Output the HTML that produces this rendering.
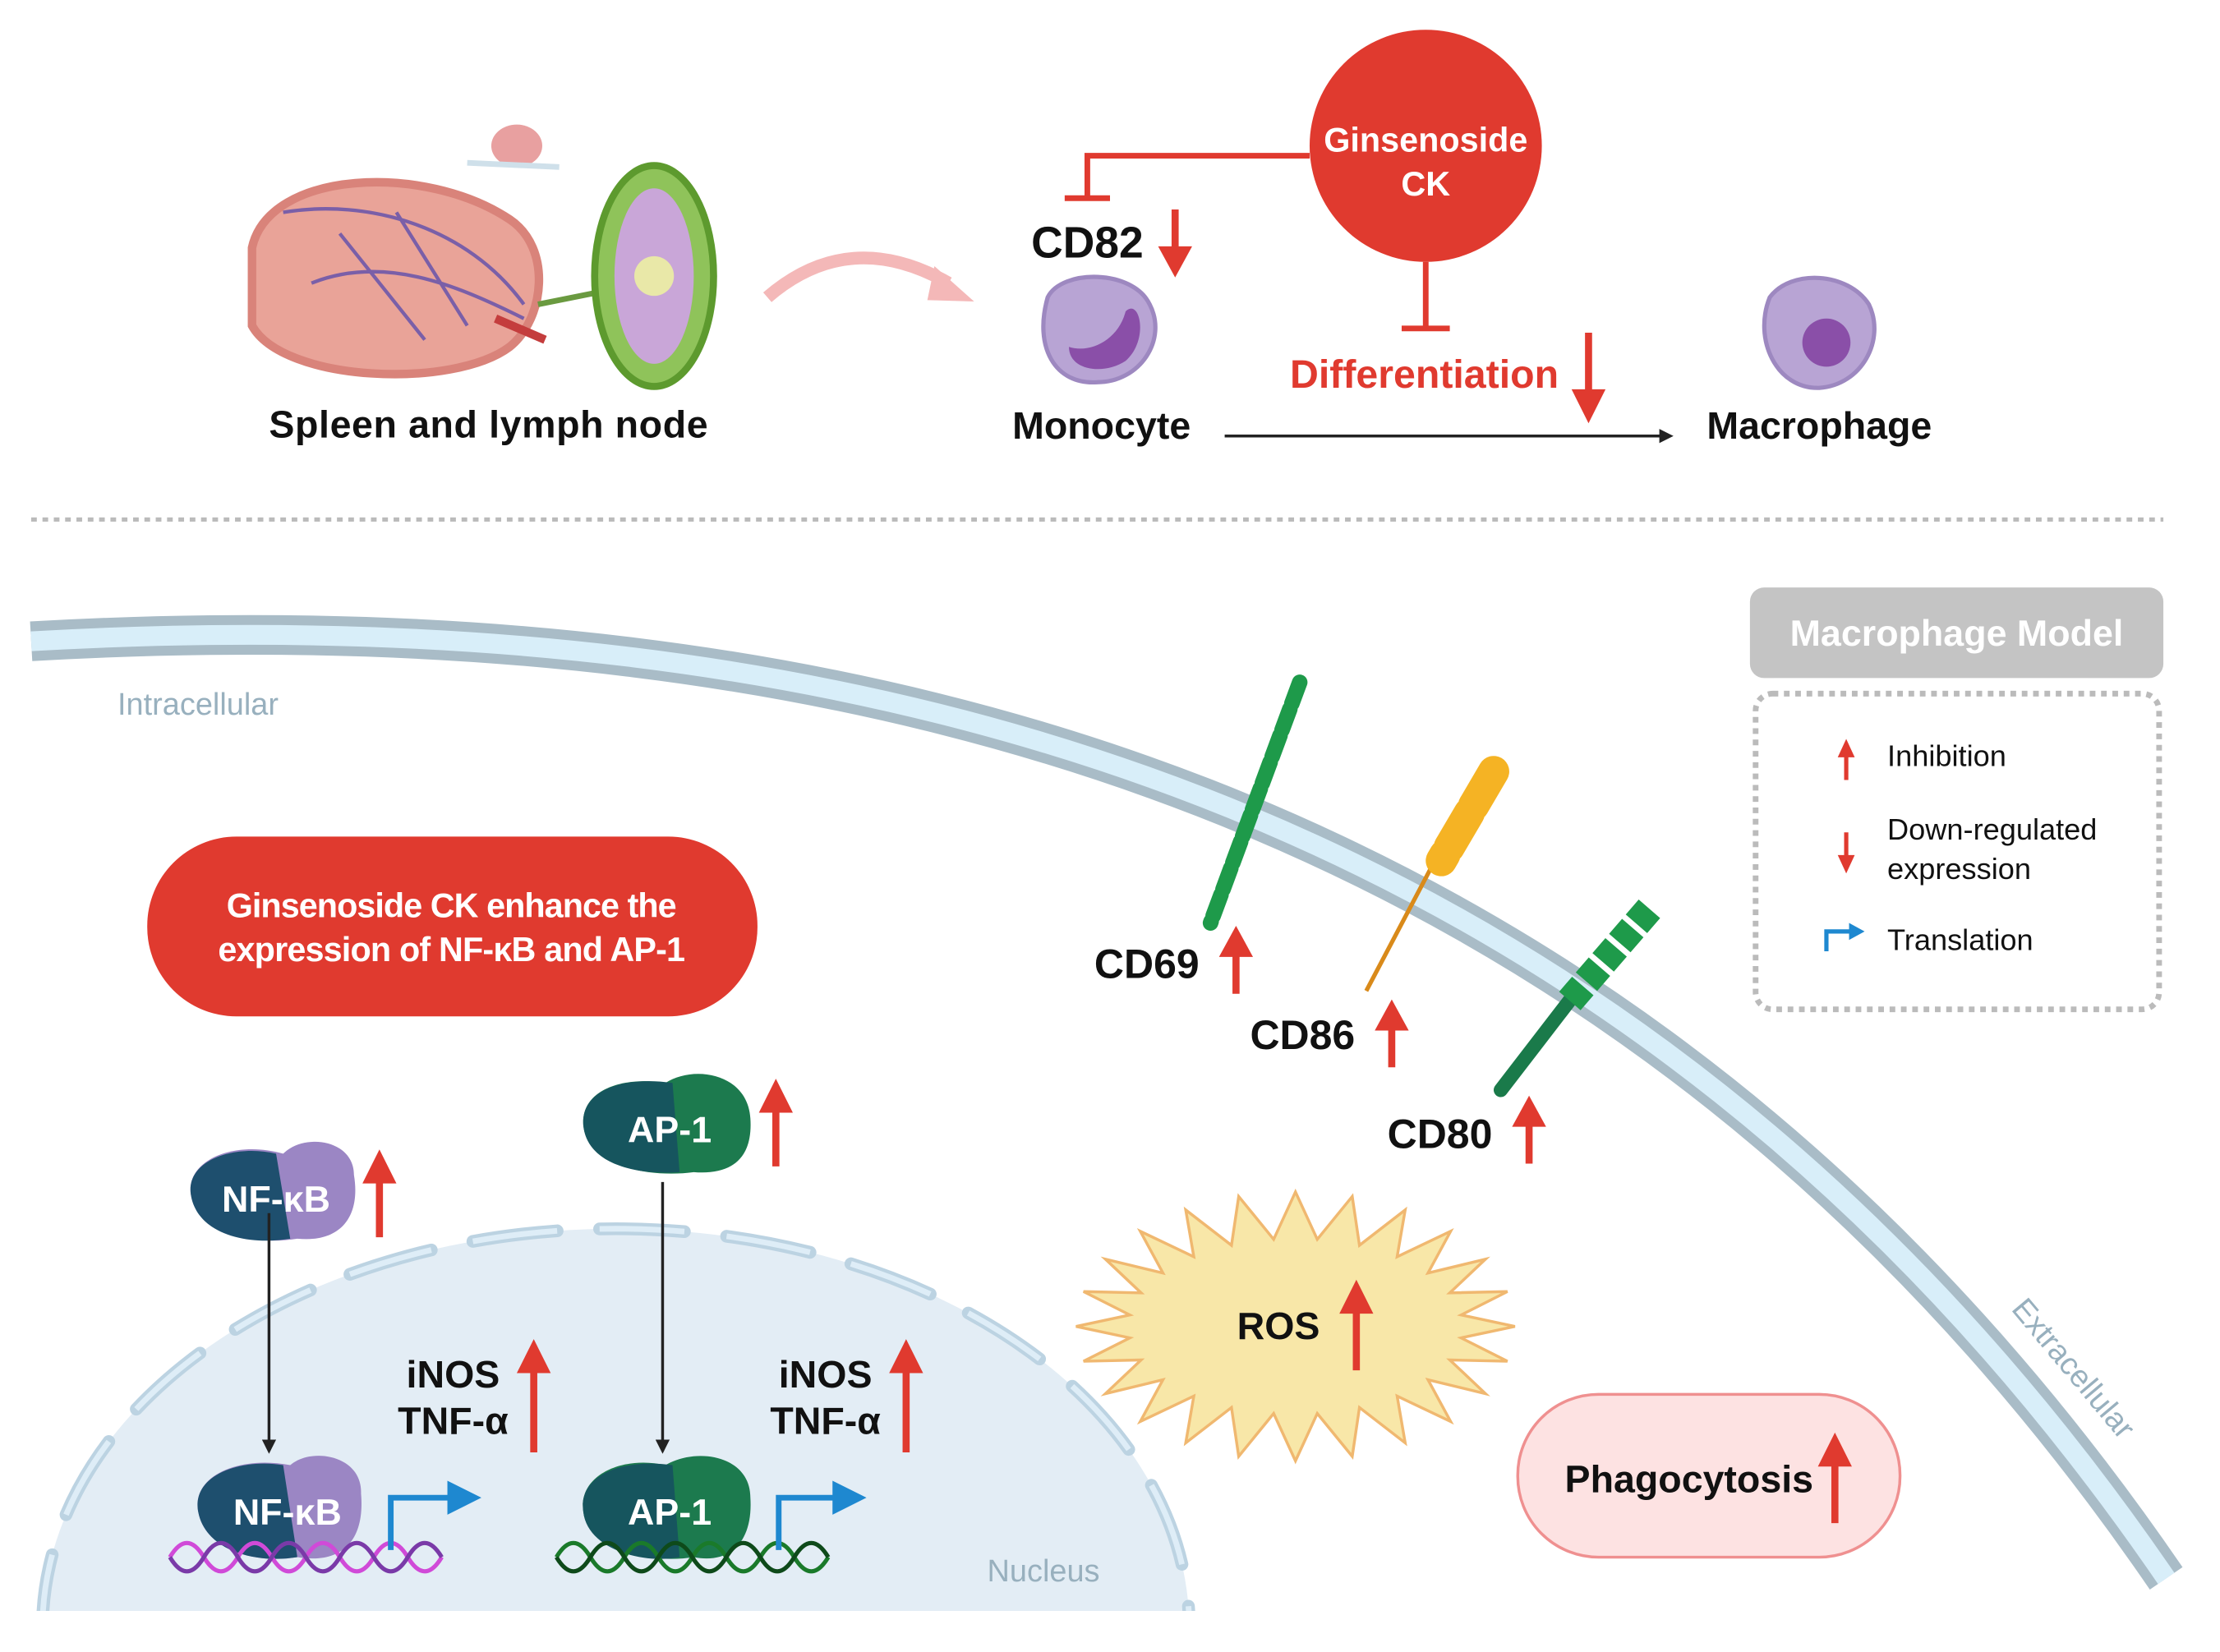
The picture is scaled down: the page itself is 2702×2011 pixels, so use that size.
<!DOCTYPE html>
<html><head><meta charset="utf-8"><style>
html,body{margin:0;padding:0;background:#fff;width:2702px;height:2011px;overflow:hidden;}
svg{display:block;}
text{font-family:"Liberation Sans",sans-serif;}
</style></head><body>
<svg id="s" width="2702" height="2011" viewBox="0 0 1568 1167" preserveAspectRatio="none" xmlns="http://www.w3.org/2000/svg">
<defs>
<marker id="ab" markerWidth="10" markerHeight="10" refX="8" refY="5" orient="auto" markerUnits="userSpaceOnUse"><path d="M0,0 L10,5 L0,10 z" fill="#222"/></marker>
<clipPath id="nc"><rect x="0" y="800" width="1000" height="338"/></clipPath>
</defs>
<ellipse cx="365" cy="103" rx="18" ry="15" fill="#e8a0a0"/>
<path d="M330,115 L395,118" stroke="#cfe0ea" stroke-width="4"/>
<path d="M178,175 C190,120 300,115 360,155 C390,175 385,225 360,245 C320,275 200,270 178,230 Z" fill="#e9a398" stroke="#d9837a" stroke-width="6"/>
<path d="M200,150 C260,140 330,160 370,215 M220,200 C270,180 320,200 370,225 M240,165 L300,240 M280,150 L330,230" stroke="#7a5fa8" stroke-width="2.5" fill="none"/>
<path d="M350,225 L385,240" stroke="#c43d3d" stroke-width="6"/>
<path d="M380,215 L430,205" stroke="#6a9a40" stroke-width="4"/>
<ellipse cx="462" cy="195" rx="42" ry="78" fill="#8fc35a" stroke="#5d9a2e" stroke-width="5"/>
<ellipse cx="462" cy="195" rx="28" ry="62" fill="#c9a6d8"/>
<circle cx="462" cy="195" r="14" fill="#e9e8a8"/>
<path d="M542,210 Q600,160 670,200" stroke="#f4b8b8" stroke-width="9" fill="none"/>
<polygon points="688,213 660,188 655,212" fill="#f4b8b8"/>
<text x="345" y="309" font-size="27" font-weight="bold" text-anchor="middle" fill="#111" textLength="310">Spleen and lymph node</text>
<circle cx="1007" cy="103" r="82" fill="#e03a2f"/>
<text x="1007" y="107" font-size="24" font-weight="bold" text-anchor="middle" fill="#fff">Ginsenoside</text>
<text x="1007" y="138" font-size="24" font-weight="bold" text-anchor="middle" fill="#fff">CK</text>
<path d="M925,110 H768 V140 M752,140 H784 M1007,185 V232 M990,232 H1024" stroke="#e03a2f" stroke-width="4" fill="none"/>
<text x="768" y="182" font-size="31" font-weight="bold" text-anchor="middle" fill="#111">CD82</text>
<path d="M830,148 V178" stroke="#e03a2f" stroke-width="5"/><polygon points="818,174 842,174 830,196" fill="#e03a2f"/>
<path d="M740,210 C750,190 800,190 812,215 C825,240 805,270 775,270 C745,272 730,245 740,210Z" fill="#b8a4d4" stroke="#9d88c0" stroke-width="3"/>
<path d="M755,245 C770,250 790,240 795,220 C805,210 812,240 795,255 C780,265 755,262 755,245Z" fill="#8a4fa8"/>
<text x="778" y="310" font-size="27" font-weight="bold" text-anchor="middle" fill="#111">Monocyte</text>
<line x1="865" y1="308" x2="1180" y2="308" stroke="#222" stroke-width="2" marker-end="url(#ab)"/>
<text x="1006" y="274" font-size="28" font-weight="bold" text-anchor="middle" fill="#e03a2f">Differentiation</text>
<path d="M1122,235 V280" stroke="#e03a2f" stroke-width="5"/><polygon points="1110,275 1134,275 1122,299" fill="#e03a2f"/>
<path d="M1250,210 C1265,190 1305,192 1320,215 C1332,240 1315,272 1285,274 C1255,275 1238,240 1250,210Z" fill="#b8a4d4" stroke="#9d88c0" stroke-width="3"/>
<circle cx="1290" cy="242" r="17" fill="#8a4fa8"/>
<text x="1285" y="310" font-size="27" font-weight="bold" text-anchor="middle" fill="#111">Macrophage</text>
<line x1="22" y1="367" x2="1528" y2="367" stroke="#bbb" stroke-width="3" stroke-dasharray="4,4"/>
<path d="M22,453 C600,420 1150,560 1530,1115" stroke="#a9bcc7" stroke-width="28" fill="none"/>
<path d="M22,453 C600,420 1150,560 1530,1115" stroke="#d8eef9" stroke-width="14" fill="none"/>
<text x="83" y="505" font-size="22" fill="#98b0be">Intracellular</text>
<text x="1420" y="925" font-size="22" fill="#98b0be" transform="rotate(50 1420 925)">Extracellular</text>
<rect x="1236" y="415" width="292" height="64" rx="10" fill="#c4c4c4"/>
<text x="1382" y="456" font-size="26" font-weight="bold" text-anchor="middle" fill="#fff">Macrophage Model</text>
<rect x="1240" y="490" width="285" height="223" rx="12" fill="none" stroke="#bbb" stroke-width="4" stroke-dasharray="4,4"/>
<path d="M1304,551 V533" stroke="#e03a2f" stroke-width="3"/><polygon points="1298,535 1310,535 1304,522" fill="#e03a2f"/>
<text x="1333" y="541" font-size="21" fill="#111">Inhibition</text>
<path d="M1304,588 V606" stroke="#e03a2f" stroke-width="3"/><polygon points="1298,604 1310,604 1304,617" fill="#e03a2f"/>
<text x="1333" y="593" font-size="21" fill="#111">Down-regulated</text>
<text x="1333" y="621" font-size="21" fill="#111">expression</text>
<path d="M1290,672 V658 H1308" stroke="#1e88d0" stroke-width="3" fill="none"/><polygon points="1306,652 1317,658 1306,664" fill="#1e88d0"/>
<text x="1333" y="671" font-size="21" fill="#111">Translation</text>
<rect x="104" y="591" width="431" height="127" rx="63" fill="#e03a2f"/>
<text x="319" y="648" font-size="24" font-weight="bold" text-anchor="middle" fill="#fff" textLength="318">Ginsenoside CK enhance the</text>
<text x="319" y="679" font-size="24" font-weight="bold" text-anchor="middle" fill="#fff" textLength="330">expression of NF-κB and AP-1</text>
<path d="M918,482 L855,652" stroke="#1e9a4a" stroke-width="11" stroke-dasharray="16,4" stroke-linecap="round"/>
<text x="810" y="691" font-size="29" font-weight="bold" text-anchor="middle" fill="#111">CD69</text>
<path d="M873,702 V672" stroke="#e03a2f" stroke-width="5"/><polygon points="861,676 885,676 873,654" fill="#e03a2f"/>
<path d="M1015,605 L965,700" stroke="#d98a1a" stroke-width="3"/>
<path d="M1055,545 L1018,608" stroke="#f5b324" stroke-width="22" stroke-linecap="round" stroke-dasharray="28,6"/>
<text x="920" y="741" font-size="29" font-weight="bold" text-anchor="middle" fill="#111">CD86</text>
<path d="M983,754 V724" stroke="#e03a2f" stroke-width="5"/><polygon points="971,728 995,728 983,706" fill="#e03a2f"/>
<path d="M1110,705 L1060,770" stroke="#1a7a4a" stroke-width="10" stroke-linecap="round"/>
<path d="M1165,642 L1108,708" stroke="#1e9a4a" stroke-width="20" stroke-dasharray="14,4"/>
<text x="1017" y="811" font-size="29" font-weight="bold" text-anchor="middle" fill="#111">CD80</text>
<path d="M1080,822 V792" stroke="#e03a2f" stroke-width="5"/><polygon points="1068,796 1092,796 1080,774" fill="#e03a2f"/>
<g clip-path="url(#nc)">
<ellipse cx="435" cy="1150" rx="405" ry="282" fill="#e3edf5"/>
<ellipse cx="435" cy="1150" rx="405" ry="282" fill="none" stroke="#bcd3e2" stroke-width="9" stroke-dasharray="60,30" stroke-linecap="round"/>
<ellipse cx="435" cy="1150" rx="405" ry="282" fill="none" stroke="#deedf7" stroke-width="4" stroke-dasharray="60,30"/>
</g>
<text x="737" y="1117" font-size="22" text-anchor="middle" fill="#98b0be">Nucleus</text>
<path d="M135,845 C130,820 165,805 200,815 C215,800 250,805 250,830 C255,860 240,878 210,875 C180,880 140,872 135,845Z" fill="#9b86c4"/>
<path d="M135,845 C130,820 165,808 195,815 L205,875 C175,880 140,872 135,845Z" fill="#1e4f6e"/>
<text x="195" y="856" font-size="26" font-weight="bold" text-anchor="middle" fill="#fff">NF-κB</text>
<path d="M268,874 V832" stroke="#e03a2f" stroke-width="5"/><polygon points="256,836 280,836 268,812" fill="#e03a2f"/>
<path d="M412,795 C410,770 440,760 470,765 C490,752 528,758 530,790 C532,820 515,830 490,828 C460,832 415,825 412,795Z" fill="#1c7a4e"/>
<path d="M412,795 C410,770 440,760 475,765 L480,828 C455,830 415,825 412,795Z" fill="#16555e"/>
<text x="473" y="807" font-size="26" font-weight="bold" text-anchor="middle" fill="#fff">AP-1</text>
<path d="M548,824 V782" stroke="#e03a2f" stroke-width="5"/><polygon points="536,786 560,786 548,762" fill="#e03a2f"/>
<line x1="190" y1="857" x2="190" y2="1025" stroke="#222" stroke-width="2" marker-end="url(#ab)"/>
<line x1="468" y1="835" x2="468" y2="1025" stroke="#222" stroke-width="2" marker-end="url(#ab)"/>
<path d="M140,1068 C135,1042 170,1028 205,1035 C220,1022 256,1028 255,1055 C258,1090 240,1105 210,1100 C180,1105 145,1095 140,1068Z" fill="#9b86c4"/>
<path d="M140,1068 C135,1042 170,1030 200,1035 L210,1100 C180,1105 145,1095 140,1068Z" fill="#1e4f6e"/>
<text x="203" y="1077" font-size="26" font-weight="bold" text-anchor="middle" fill="#fff">NF-κB</text>
<path d="M120,1100 q12,-20 24,0 t24,0 t24,0 t24,0 t24,0 t24,0 t24,0 t24,0" stroke="#d04ad8" stroke-width="3" fill="none"/>
<path d="M120,1100 q12,20 24,0 t24,0 t24,0 t24,0 t24,0 t24,0 t24,0 t24,0" stroke="#7a3aa8" stroke-width="3" fill="none"/>
<path d="M276,1095 V1058 H318" stroke="#1e88d0" stroke-width="4" fill="none"/><polygon points="316,1046 340,1058 316,1070" fill="#1e88d0"/>
<path d="M412,1068 C408,1042 440,1028 470,1035 C492,1022 530,1028 530,1058 C532,1090 515,1105 490,1100 C460,1105 415,1095 412,1068Z" fill="#1c7a4e"/>
<path d="M412,1068 C408,1042 440,1030 475,1035 L480,1100 C455,1105 415,1095 412,1068Z" fill="#16555e"/>
<text x="473" y="1077" font-size="26" font-weight="bold" text-anchor="middle" fill="#fff">AP-1</text>
<path d="M393,1100 q12,-20 24,0 t24,0 t24,0 t24,0 t24,0 t24,0 t24,0 t24,0" stroke="#1a7a2a" stroke-width="3" fill="none"/>
<path d="M393,1100 q12,20 24,0 t24,0 t24,0 t24,0 t24,0 t24,0 t24,0 t24,0" stroke="#0e4a1a" stroke-width="3" fill="none"/>
<path d="M550,1095 V1058 H590" stroke="#1e88d0" stroke-width="4" fill="none"/><polygon points="588,1046 612,1058 588,1070" fill="#1e88d0"/>
<text x="320" y="980" font-size="27" font-weight="bold" text-anchor="middle" fill="#111">iNOS</text>
<text x="320" y="1013" font-size="27" font-weight="bold" text-anchor="middle" fill="#111">TNF-α</text>
<path d="M377,1026 V966" stroke="#e03a2f" stroke-width="5"/><polygon points="365,970 389,970 377,946" fill="#e03a2f"/>
<text x="583" y="980" font-size="27" font-weight="bold" text-anchor="middle" fill="#111">iNOS</text>
<text x="583" y="1013" font-size="27" font-weight="bold" text-anchor="middle" fill="#111">TNF-α</text>
<path d="M640,1026 V966" stroke="#e03a2f" stroke-width="5"/><polygon points="628,970 652,970 640,946" fill="#e03a2f"/>
<polygon id="star" fill="#f8e7a8" stroke="#f0b870" stroke-width="2" points=""/>
<text x="903" y="946" font-size="27" font-weight="bold" text-anchor="middle" fill="#111">ROS</text>
<path d="M958,968 V924" stroke="#e03a2f" stroke-width="5"/><polygon points="946,928 970,928 958,904" fill="#e03a2f"/>
<rect x="1072" y="985" width="270" height="115" rx="57" fill="#fde2e2" stroke="#ef9090" stroke-width="2"/>
<text x="1193" y="1054" font-size="27" font-weight="bold" text-anchor="middle" fill="#111">Phagocytosis</text>
<path d="M1296,1076 V1032" stroke="#e03a2f" stroke-width="5"/><polygon points="1284,1036 1308,1036 1296,1012" fill="#e03a2f"/>
</svg>
<script>
var p=[],n=24,cx=915,cy=937;
for(var i=0;i<n*2;i++){var a=Math.PI*i/n;var o=i%2==0;var rx=o?155:118,ry=o?95:62;p.push((cx+rx*Math.cos(a)).toFixed(1)+","+(cy+ry*Math.sin(a)).toFixed(1));}
document.getElementById("star").setAttribute("points",p.join(" "));
</script>
</body></html>
